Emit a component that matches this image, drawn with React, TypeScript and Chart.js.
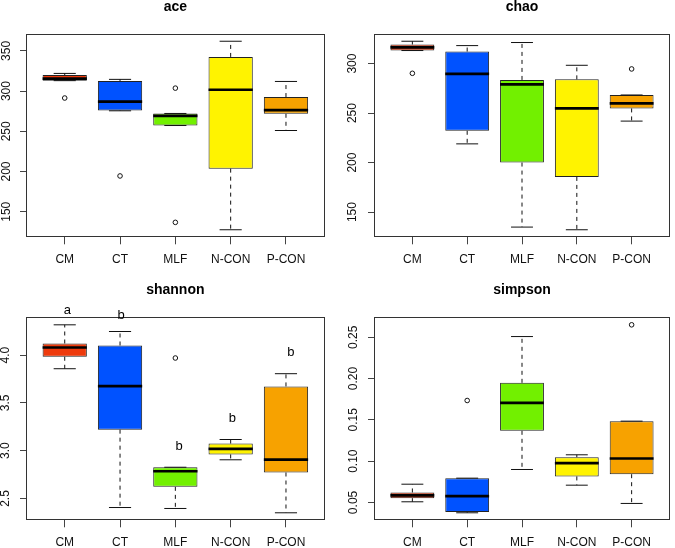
import React, { useEffect, useRef } from 'react';
import { Chart, registerables } from 'chart.js';

Chart.register(...registerables);

const FONT = "'Liberation Sans', Arial, Helvetica, sans-serif";

const categories = ['CM', 'CT', 'MLF', 'N-CON', 'P-CON'];
const groupPositions = [1, 2, 3, 4, 5];
const boxColors = ['#EE3A0C', '#0052FF', '#72F000', '#FFF300', '#F7A200'];

// ace
const aceLow = [313, 275.5, 257.2, 127.6, 251];
const aceQ1 = [313, 276, 257.2, 203.6, 271.8];
const aceMedian = [315.6, 286.8, 269.3, 301.7, 276.4];
const aceQ3 = [320, 312.6, 272.2, 342.5, 292.6];
const aceHigh = [322, 314.6, 272.2, 362, 312];
const aceOutlierGroup = [1, 2, 3, 3];
const aceOutlierValue = [291.4, 194.5, 303.7, 136.8];
const aceTicks = [150, 200, 250, 300, 350];

// chao
const chaoLow = [313.2, 218.9, 134.8, 132.1, 241.9];
const chaoQ1 = [313.2, 232.1, 200, 185.5, 254.7];
const chaoMedian = [316.5, 289.6, 279, 254.7, 259.8];
const chaoQ3 = [319.3, 312.2, 283.5, 284.1, 268.3];
const chaoHigh = [322.6, 318.2, 321.3, 298.3, 268.3];
const chaoOutlierGroup = [1, 5];
const chaoOutlierValue = [290.2, 294.6];
const chaoTicks = [150, 200, 250, 300];

// shannon
const shannonLow = [3.857, 2.406, 2.396, 2.905, 2.351];
const shannonQ1 = [3.982, 3.22, 2.622, 2.961, 2.772];
const shannonMedian = [4.079, 3.676, 2.785, 3.019, 2.907];
const shannonQ3 = [4.121, 4.1, 2.827, 3.075, 3.672];
const shannonHigh = [4.316, 4.246, 2.827, 3.117, 3.805];
const shannonOutlierGroup = [3];
const shannonOutlierValue = [3.969];
const shannonTicks = [2.5, 3.0, 3.5, 4.0];
const shannonLetters = ['a', 'b', 'b', 'b', 'b'];
const shannonLetterX = [1.05, 2.02, 3.07, 4.03, 5.09];
const shannonLetterY = [4.466, 4.413, 3.046, 3.335, 4.024];

// simpson
const simpsonLow = [0.0508, 0.0375, 0.0899, 0.0709, 0.0488];
const simpsonQ1 = [0.0552, 0.0383, 0.1367, 0.0815, 0.0842];
const simpsonMedian = [0.0585, 0.0576, 0.1706, 0.0976, 0.1032];
const simpsonQ3 = [0.0621, 0.0794, 0.1948, 0.1048, 0.1484];
const simpsonHigh = [0.0721, 0.0794, 0.2508, 0.1077, 0.1484];
const simpsonOutlierGroup = [2, 5];
const simpsonOutlierValue = [0.1734, 0.265];
const simpsonTicks = [0.05, 0.1, 0.15, 0.2, 0.25];

type PanelSpec = {
  title: string;
  low: number[];
  q1: number[];
  median: number[];
  q3: number[];
  high: number[];
  outGroup: number[];
  outValue: number[];
  ticks: number[];
  decimals: number;
  letters?: string[];
  letterX?: number[];
  letterY?: number[];
};

type Geo = {
  left: number;
  top: number;
  width: number;
  height: number;
  yAxisWidth: number;
  xAxisHeight: number;
  padTop: number;
  padRight: number;
  titleGap: number;
  yTickPad: number;
};

function makeExtrasPlugin(spec: PanelSpec) {
  return {
    id: 'boxExtras',
    afterDatasetsDraw(chart: any) {
      const { ctx, chartArea: a, scales } = chart;
      const x = scales.x;
      const y = scales.y;
      ctx.save();
      // frame
      ctx.strokeStyle = '#333';
      ctx.lineWidth = 1;
      ctx.setLineDash([]);
      const l = Math.round(a.left) + 0.5;
      const t = Math.round(a.top) + 0.5;
      const r = Math.round(a.right) - 0.5;
      const b = Math.round(a.bottom) - 0.5;
      ctx.strokeRect(l, t, r - l, b - t);

      groupPositions.forEach((g, i) => {
        const cx = x.getPixelForValue(g);
        const half = x.getPixelForValue(g + 0.4) - cx;
        const capHalf = x.getPixelForValue(g + 0.2) - cx;
        const yHi = y.getPixelForValue(spec.high[i]);
        const yQ3 = y.getPixelForValue(spec.q3[i]);
        const yQ1 = y.getPixelForValue(spec.q1[i]);
        const yLo = y.getPixelForValue(spec.low[i]);
        const yMed = y.getPixelForValue(spec.median[i]);
        ctx.strokeStyle = '#111';
        ctx.lineWidth = 1;
        ctx.setLineDash([4, 4]);
        ctx.beginPath();
        if (yHi < yQ3) {
          ctx.moveTo(cx, yQ3);
          ctx.lineTo(cx, yHi);
        }
        if (yLo > yQ1) {
          ctx.moveTo(cx, yQ1);
          ctx.lineTo(cx, yLo);
        }
        ctx.stroke();
        ctx.setLineDash([]);
        ctx.beginPath();
        ctx.moveTo(cx - capHalf, yHi);
        ctx.lineTo(cx + capHalf, yHi);
        ctx.moveTo(cx - capHalf, yLo);
        ctx.lineTo(cx + capHalf, yLo);
        ctx.stroke();
        ctx.strokeStyle = '#000';
        ctx.lineWidth = 2.7;
        ctx.beginPath();
        ctx.moveTo(cx - half, yMed);
        ctx.lineTo(cx + half, yMed);
        ctx.stroke();
      });

      if (spec.letters && spec.letterX && spec.letterY) {
        ctx.fillStyle = '#000';
        ctx.font = `13px ${FONT}`;
        ctx.textAlign = 'center';
        ctx.textBaseline = 'middle';
        spec.letters.forEach((txt, i) => {
          ctx.fillText(
            txt,
            x.getPixelForValue(spec.letterX![i]),
            y.getPixelForValue(spec.letterY![i])
          );
        });
      }
      ctx.restore();
    },
  };
}

function BoxPanel({ spec, geo }: { spec: PanelSpec; geo: Geo }) {
  const ref = useRef<HTMLCanvasElement | null>(null);
  useEffect(() => {
    const canvas = ref.current;
    if (!canvas) return;
    const all = [...spec.low, ...spec.high, ...spec.outValue];
    const dMin = Math.min(...all);
    const dMax = Math.max(...all);
    const ext = (dMax - dMin) * 0.04;
    const nGroups = groupPositions.length;
    const xMin = 0.5 - nGroups * 0.04;
    const xMax = nGroups + 0.5 + nGroups * 0.04;

    const tickFont = { family: FONT, size: 12 };
    const chart = new Chart(canvas, {
      type: 'bar',
      data: {
        datasets: [
          {
            type: 'bar',
            data: groupPositions.map((g, i) => ({ x: g, y: [spec.q1[i], spec.q3[i]] })) as any,
            backgroundColor: boxColors,
            borderColor: '#222',
            borderWidth: 1,
            borderSkipped: false,
            barPercentage: 0.8,
            categoryPercentage: 1,
          } as any,
          {
            type: 'scatter',
            data: spec.outGroup.map((g, i) => ({ x: g, y: spec.outValue[i] })),
            pointRadius: 2.3,
            pointBorderWidth: 1,
            pointBorderColor: '#111',
            pointBackgroundColor: 'rgba(0,0,0,0)',
          } as any,
        ],
      },
      options: {
        responsive: false,
        animation: false,
        events: [],
        layout: { padding: { top: geo.padTop, left: 0, right: geo.padRight, bottom: 0 } },
        plugins: {
          legend: { display: false },
          tooltip: { enabled: false },
          title: {
            display: true,
            text: spec.title,
            fullSize: false,
            color: '#000',
            font: { family: FONT, size: 14, weight: 'bold', lineHeight: '15px' } as any,
            padding: { top: 0, bottom: geo.titleGap },
          },
        },
        scales: {
          x: {
            type: 'linear',
            min: xMin,
            max: xMax,
            offset: false,
            afterBuildTicks: (s: any) => {
              s.ticks = groupPositions.map((v) => ({ value: v }));
            },
            afterFit: (s: any) => {
              s.height = geo.xAxisHeight;
            },
            grid: { offset: false, drawOnChartArea: false, drawTicks: true, tickLength: 7, color: '#444' },
            border: { display: false },
            ticks: {
              autoSkip: false,
              maxRotation: 0,
              minRotation: 0,
              padding: 8,
              color: '#111',
              font: tickFont,
              callback: (v: any) => categories[Math.round(Number(v)) - 1],
            },
          },
          y: {
            type: 'linear',
            min: dMin - ext,
            max: dMax + ext,
            afterBuildTicks: (s: any) => {
              s.ticks = spec.ticks.map((v) => ({ value: v }));
            },
            afterFit: (s: any) => {
              s.width = geo.yAxisWidth;
            },
            grid: { drawOnChartArea: false, drawTicks: true, tickLength: 6, color: '#444' },
            border: { display: false },
            ticks: {
              minRotation: 90,
              maxRotation: 90,
              crossAlign: 'center',
              padding: geo.yTickPad,
              color: '#111',
              font: tickFont,
              callback: (v: any) => Number(v).toFixed(spec.decimals),
            },
          },
        } as any,
      },
      plugins: [makeExtrasPlugin(spec)],
    } as any);
    return () => chart.destroy();
  }, [spec, geo]);

  return (
    <canvas
      ref={ref}
      width={geo.width}
      height={geo.height}
      style={{
        position: 'absolute',
        left: geo.left,
        top: geo.top,
        width: geo.width,
        height: geo.height,
        display: 'block',
      }}
    />
  );
}

const aceSpec: PanelSpec = {
  title: 'ace', low: aceLow, q1: aceQ1, median: aceMedian, q3: aceQ3, high: aceHigh,
  outGroup: aceOutlierGroup, outValue: aceOutlierValue, ticks: aceTicks, decimals: 0,
};
const chaoSpec: PanelSpec = {
  title: 'chao', low: chaoLow, q1: chaoQ1, median: chaoMedian, q3: chaoQ3, high: chaoHigh,
  outGroup: chaoOutlierGroup, outValue: chaoOutlierValue, ticks: chaoTicks, decimals: 0,
};
const shannonSpec: PanelSpec = {
  title: 'shannon', low: shannonLow, q1: shannonQ1, median: shannonMedian, q3: shannonQ3, high: shannonHigh,
  outGroup: shannonOutlierGroup, outValue: shannonOutlierValue, ticks: shannonTicks, decimals: 1,
  letters: shannonLetters, letterX: shannonLetterX, letterY: shannonLetterY,
};
const simpsonSpec: PanelSpec = {
  title: 'simpson', low: simpsonLow, q1: simpsonQ1, median: simpsonMedian, q3: simpsonQ3, high: simpsonHigh,
  outGroup: simpsonOutlierGroup, outValue: simpsonOutlierValue, ticks: simpsonTicks, decimals: 2,
};

const aceGeo: Geo = { left: 0, top: 0, width: 337, height: 274, yAxisWidth: 26, xAxisHeight: 36.7, padTop: 0, padRight: 12.3, titleGap: 18.7, yTickPad: 3.5 };
const chaoGeo: Geo = { left: 337, top: 0, width: 338, height: 274, yAxisWidth: 37, xAxisHeight: 36.7, padTop: 0, padRight: 3, titleGap: 18.7, yTickPad: 5 };
const shannonGeo: Geo = { left: 0, top: 274, width: 337, height: 274, yAxisWidth: 26, xAxisHeight: 27.7, padTop: 8.5, padRight: 12.3, titleGap: 19.8, yTickPad: 5.7 };
const simpsonGeo: Geo = { left: 337, top: 274, width: 338, height: 274, yAxisWidth: 37, xAxisHeight: 27.7, padTop: 8.5, padRight: 3, titleGap: 19.8, yTickPad: 2.3 };

export default function App() {
  return (
    <div style={{ position: 'fixed', left: 0, top: 0, width: 675, height: 548, background: '#fff' }}>
      <BoxPanel spec={aceSpec} geo={aceGeo} />
      <BoxPanel spec={chaoSpec} geo={chaoGeo} />
      <BoxPanel spec={shannonSpec} geo={shannonGeo} />
      <BoxPanel spec={simpsonSpec} geo={simpsonGeo} />
    </div>
  );
}
